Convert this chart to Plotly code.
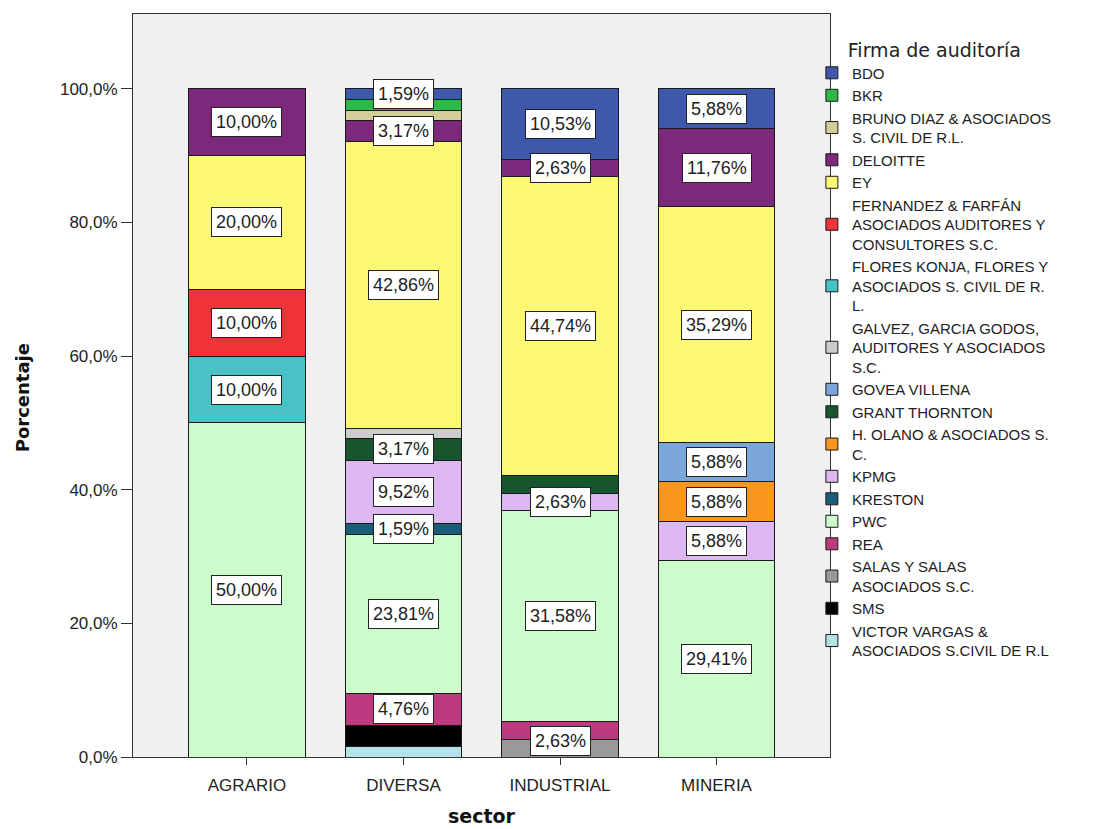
import plotly.graph_objects as go

sectors = ["AGRARIO", "DIVERSA", "INDUSTRIAL", "MINERIA"]

firms = [
    "BDO",
    "BKR",
    "BRUNO DIAZ & ASOCIADOS<br>S. CIVIL DE R.L.",
    "DELOITTE",
    "EY",
    "FERNANDEZ & FARFÁN<br>ASOCIADOS AUDITORES Y<br>CONSULTORES S.C.",
    "FLORES KONJA, FLORES Y<br>ASOCIADOS S. CIVIL DE R.<br>L.",
    "GALVEZ, GARCIA GODOS,<br>AUDITORES Y ASOCIADOS<br>S.C.",
    "GOVEA VILLENA",
    "GRANT THORNTON",
    "H. OLANO & ASOCIADOS S.<br>C.",
    "KPMG",
    "KRESTON",
    "PWC",
    "REA",
    "SALAS Y SALAS<br>ASOCIADOS S.C.",
    "SMS",
    "VICTOR VARGAS &<br>ASOCIADOS S.CIVIL DE R.L",
]

colors = [
    "#3E58AC", "#2EB848", "#D3CE97", "#7C287D", "#FBF873", "#EF3338",
    "#48C2C5", "#CCCCCC", "#7AA6D9", "#17552F", "#F8961E", "#DDB8F0",
    "#1B5C78", "#CCFCCB", "#BC3A7E", "#999999", "#000000", "#B2E3E6",
]

# percentage of firms per sector (None = firm absent in the sector)
agrario = [None, None, None, 10.00, 20.00, 10.00, 10.00, None, None, None,
           None, None, None, 50.00, None, None, None, None]
diversa = [1.59, 1.59, 1.59, 3.17, 42.86, None, None, 1.59, None, 3.17,
           None, 9.52, 1.59, 23.81, 4.76, None, 3.17, 1.59]
industrial = [10.53, None, None, 2.63, 44.74, None, None, None, None, 2.63,
              None, 2.63, None, 31.58, 2.63, 2.63, None, None]
mineria = [5.88, None, None, 11.76, 35.29, None, None, None, 5.88, None,
           5.88, 5.88, None, 29.41, None, None, None, None]

# segment labels that the original chart leaves out (overlapping)
hidden_labels = {
    "DIVERSA": ["BKR", "BRUNO", "GALVEZ", "SMS", "VICTOR"],
    "INDUSTRIAL": ["GRANT", "REA"],
}

series = [agrario, diversa, industrial, mineria]

fig = go.Figure()

# bottom of the stack is the last firm alphabetically
for i in reversed(range(len(firms))):
    fig.add_trace(go.Bar(
        x=sectors,
        y=[s[i] for s in series],
        name=firms[i],
        marker=dict(color=colors[i], line=dict(color="#1a1a1a", width=1)),
        width=0.747,
        hoverinfo="x+y+name",
    ))

def key(name):
    return name.split()[0].rstrip(",")

annotations = []
for sec, vals in zip(sectors, series):
    base = 0.0
    for i in reversed(range(len(firms))):
        v = vals[i]
        if v is None:
            continue
        mid = base + v / 2
        base += v
        if key(firms[i]) in hidden_labels.get(sec, []):
            continue
        txt = f"{v:.2f}".replace(".", ",") + "%"
        if mid < 2.3:
            y, yanchor = 0.2, "bottom"
        else:
            y, yanchor = mid, "middle"
        annotations.append(dict(
            x=sec, y=y, xref="x", yref="y", text=txt, showarrow=False,
            yanchor=yanchor, xanchor="center",
            font=dict(family="Liberation Sans, Arial, sans-serif", size=18, color="#222"),
            bgcolor="white", bordercolor="#222", borderwidth=1, borderpad=4,
        ))

# axis titles placed like the original
annotations.append(dict(
    text="<b>Porcentaje</b>", textangle=-90, showarrow=False,
    xref="paper", yref="paper", x=-0.159, y=0.483,
    xanchor="center", yanchor="middle",
    font=dict(family="DejaVu Sans, sans-serif", size=18, color="#111"),
))
annotations.append(dict(
    text="<b>sector</b>", showarrow=False,
    xref="paper", yref="paper", x=0.5, y=-0.079,
    xanchor="center", yanchor="middle",
    font=dict(family="DejaVu Sans, sans-serif", size=19, color="#111"),
))

fig.update_layout(
    barmode="stack",
    width=1102, height=829,
    margin=dict(l=133, r=272, t=14, b=72, autoexpand=False),
    paper_bgcolor="white",
    plot_bgcolor="#F0F0F0",
    font=dict(family="Liberation Sans, Arial, sans-serif", size=15, color="#222"),
    annotations=annotations,
    showlegend=True,
    legend=dict(
        x=0.974, xanchor="left", y=0.976, yanchor="top",
        traceorder="reversed",
        bgcolor="rgba(0,0,0,0)",
        font=dict(family="Liberation Sans, Arial, sans-serif", size=15, color="#222"),
        title=dict(text="Firma de auditoría", side="top center",
                   font=dict(family="DejaVu Sans, sans-serif", size=19, color="#222")),
        itemwidth=30,
        tracegroupgap=0,
    ),
    xaxis=dict(
        range=[-0.728, 3.725],
        automargin=False,
        showline=True, linecolor="#333", linewidth=1, mirror=True,
        ticks="outside", ticklen=7, tickcolor="#333",
        ticklabelstandoff=6,
        tickfont=dict(family="Liberation Sans, Arial, sans-serif", size=17, color="#222"),
        showgrid=False,
    ),
    yaxis=dict(
        range=[0, 111.2],
        automargin=False,
        tickvals=[0, 20, 40, 60, 80, 100],
        ticktext=["0,0%", "20,0%", "40,0%", "60,0%", "80,0%", "100,0%"],
        showline=True, linecolor="#333", linewidth=1, mirror=True,
        ticks="outside", ticklen=11, tickcolor="#333",
        tickfont=dict(family="Liberation Sans, Arial, sans-serif", size=17, color="#222"),
        showgrid=False, zeroline=False,
    ),
)

fig.write_html("out.html")
